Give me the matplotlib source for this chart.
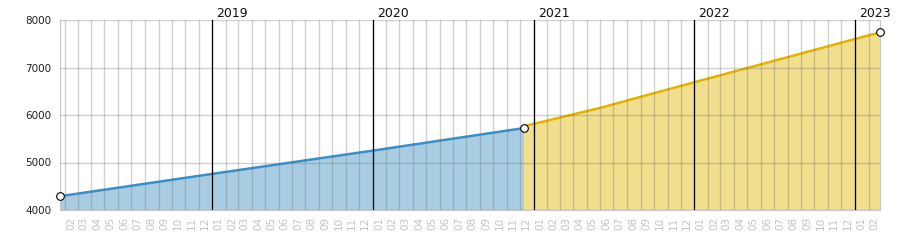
import matplotlib
matplotlib.use('Agg')
import matplotlib.pyplot as plt
import pandas as pd

# values (dates, totals)
blue_dates = ["2018-01-20", "2019-01-01", "2020-01-01", "2020-12-10"]
blue_vals = [4290, 4760, 5250, 5725]
yellow_dates = ["2020-12-08", "2021-06-01", "2022-01-01", "2022-07-01", "2023-01-01", "2023-02-27"]
yellow_vals = [5760, 6150, 6690, 7140, 7600, 7740]
year_labels = ["2019", "2020", "2021", "2022", "2023"]
y_ticks = [4000, 5000, 6000, 7000, 8000]

bd = pd.to_datetime(blue_dates)
yd = pd.to_datetime(yellow_dates)

fig = plt.figure(figsize=(9, 2.5), dpi=100)
ax = fig.add_axes([60/900, 40/250, 820/900, 190/250])

ax.fill_between(bd, blue_vals, 4000, color='#a8cde3', lw=0)
ax.plot(bd, blue_vals, c='#3a8fc4', lw=1.8, solid_capstyle='butt')
ax.fill_between(yd, yellow_vals, 4000, color='#f1df8d', lw=0)
ax.plot(yd, yellow_vals, c='#e2b400', lw=1.8, solid_capstyle='butt')

# month grid + labels at mid-month
months = pd.date_range("2018-02-01", "2023-02-01", freq='MS')
mids = months + pd.Timedelta(days=14)
ax.set_xticks(months)
ax.set_xticklabels([])
ax.set_xticks(mids, minor=True)
ax.set_xticklabels([m.strftime('%m') for m in months], minor=True, rotation=90,
                   color='#c4c4c4', fontsize=7.5)
ax.tick_params(axis='x', which='both', length=0, pad=5)
ax.set_yticks(y_ticks)
ax.tick_params(axis='y', length=0, labelsize=7.5, pad=6, labelcolor='#222222')

ax.grid(True, which='major', color='#707070', alpha=0.32, lw=1)
ax.set_axisbelow(False)

for lab in year_labels:
    d = pd.Timestamp(lab + "-01-01")
    ax.axvline(d, color='black', lw=0.9, zorder=4)
    ax.text(d + pd.Timedelta(days=9), 8000, lab, ha='left', va='bottom',
            fontsize=9, color='#111111')

# markers
ax.plot([bd[0], bd[-1], yd[-1]], [blue_vals[0], blue_vals[-1], yellow_vals[-1]], 'o',
        ms=5.5, mfc='white', mec='black', mew=0.8, zorder=6, clip_on=False)

ax.set_xlim(pd.Timestamp("2018-01-20"), pd.Timestamp("2023-02-27"))
ax.set_ylim(4000, 8000)
for s in ax.spines.values():
    s.set_color('#c8c8c8')
ax.spines['top'].set_visible(False)

fig.savefig('out.png', dpi=100)
